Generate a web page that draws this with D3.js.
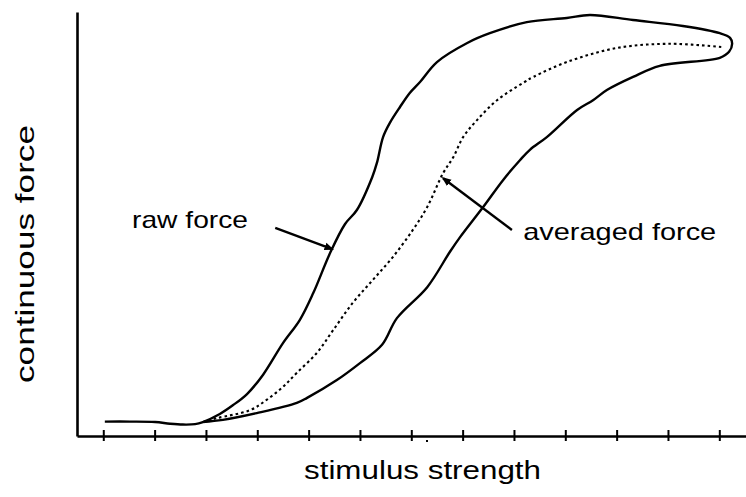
<!DOCTYPE html>
<html>
<head>
<meta charset="utf-8">
<script src="https://cdn.jsdelivr.net/npm/d3@7"></script>
<style>
  body { margin: 0; background: #fff; }
  svg { display: block; }
  text { font-family: "Liberation Sans", Arial, Helvetica, sans-serif; fill: #000; }
</style>
</head>
<body>
<svg id="chart" width="746" height="497"></svg>
<script>
// tick positions along stimulus axis (no labels on the original)
const xTicks = [0, 1, 2, 3, 4, 5, 6, 7, 8, 9, 10, 11, 12];

// raw force: one loop, flat start -> rising branch -> top right -> falling branch back
const rawX = [0.03, 0.52, 1.01, 1.30, 1.55, 1.79, 1.94,
  2.27, 2.53, 2.80, 3.11, 3.50, 3.83, 4.09, 4.42, 4.71, 4.94, 5.24, 5.33, 5.45, 5.58, 5.78, 5.97, 6.17,
  6.50, 7.09, 7.53, 8.25, 9.03, 9.48, 10.32, 11.29, 12.01, 12.21, 12.25, 12.19, 12.01,
  10.84, 10.32, 9.81, 9.54, 9.23, 8.64, 8.31, 8.12, 7.79, 7.40, 6.95, 6.75, 6.31, 5.72, 5.43, 5.00,
  4.55, 3.97, 3.77, 2.99, 2.33, 1.94];
const rawY = [3.4, 3.4, 3.3, 2.9, 2.7, 2.8, 3.3,
  5.2, 7.3, 9.9, 14.4, 21.9, 27.4, 33.7, 43.2, 50.0, 53.3, 61.1, 64.4, 70.5, 73.8, 77.6, 80.9, 83.5,
  88.2, 92.7, 95.0, 97.6, 98.6, 99.3, 98.1, 96.7, 95.0, 93.9, 92.5, 90.6, 89.2,
  87.3, 84.7, 81.6, 79.2, 76.9, 70.5, 67.5, 65.1, 60.4, 54.0, 46.9, 43.4, 35.1, 27.8, 21.5, 17.2,
  13.2, 9.0, 7.8, 5.4, 3.8, 3.3];

// averaged force (dotted)
const avgX = [1.94, 2.21, 2.86, 3.18, 3.50, 3.77, 4.16, 4.48, 4.86, 5.25, 5.64, 6.03, 6.31, 6.62,
  6.82, 7.01, 7.28, 7.67, 8.18, 8.38, 9.03, 10.00, 11.04, 12.07];
const avgY = [3.3, 4.2, 6.1, 8.5, 11.6, 14.9, 19.6, 25.0, 31.4, 36.8, 42.2, 48.6, 54.0, 62.0,
  65.8, 70.5, 74.5, 79.2, 83.3, 84.7, 88.2, 91.5, 92.5, 91.7];

// labels with their leader lines: [text x, text y, line start x, y, line end x, y]
const labelNames = ["raw force", "averaged force"];
const labelPos = [[0.56, 49.1, 3.35, 49.1, 4.46, 44.1],
                  [8.18, 46.2, 7.96, 48.6, 6.62, 60.8]];

const xTitle = "stimulus strength";
const yTitle = "continuous force";

const svg = d3.select("#chart");

const x = d3.scaleLinear().domain([-0.512, 12.52]).range([77, 746]);
const y = d3.scaleLinear().domain([0, 100]).range([436, 12]);

// x axis, ticks cross the line
const xAxis = svg.append("g")
  .attr("transform", "translate(0,436)")
  .call(d3.axisBottom(x).tickValues(xTicks).tickSize(5).tickSizeOuter(0).tickFormat(""));
xAxis.select(".domain").attr("stroke-width", 2.6);
xAxis.selectAll(".tick line").attr("y1", -6).attr("stroke-width", 2);

// y axis, bare line
const yAxis = svg.append("g")
  .attr("transform", "translate(77,0)")
  .call(d3.axisLeft(y).tickValues([]).tickSizeOuter(0));
yAxis.select(".domain").attr("stroke-width", 2.6);

const line = d3.line()
  .x(d => x(d[0]))
  .y(d => y(d[1]))
  .curve(d3.curveCatmullRom.alpha(0.5));

svg.append("path")
  .datum(d3.zip(rawX, rawY))
  .attr("d", line)
  .attr("fill", "none")
  .attr("stroke", "#000")
  .attr("stroke-width", 2.4)
  .attr("stroke-linejoin", "round");

svg.append("path")
  .datum(d3.zip(avgX, avgY))
  .attr("d", line)
  .attr("fill", "none")
  .attr("stroke", "#000")
  .attr("stroke-width", 2.1)
  .attr("stroke-dasharray", "2.6,3");

// leader lines with small arrow heads at the curve end
svg.append("defs").append("marker")
  .attr("id", "tip")
  .attr("viewBox", "0 0 10 10")
  .attr("refX", 8).attr("refY", 5)
  .attr("markerWidth", 4).attr("markerHeight", 4)
  .attr("orient", "auto")
  .append("path").attr("d", "M0,1 L10,5 L0,9 Z").attr("fill", "#000");

const labelLen = [116, 193];
labelPos.forEach((p, i) => {
  svg.append("line")
    .attr("x1", x(p[2])).attr("y1", y(p[3]))
    .attr("x2", x(p[4])).attr("y2", y(p[5]))
    .attr("stroke", "#000")
    .attr("stroke-width", 2.4)
    .attr("marker-end", "url(#tip)");
  svg.append("text")
    .attr("x", x(p[0])).attr("y", y(p[1]))
    .attr("font-size", 24)
    .attr("textLength", labelLen[i])
    .attr("lengthAdjust", "spacingAndGlyphs")
    .text(labelNames[i]);
});

svg.append("text")
  .attr("x", 304).attr("y", 479)
  .attr("font-size", 25)
  .attr("textLength", 237)
  .attr("lengthAdjust", "spacingAndGlyphs")
  .text(xTitle);

svg.append("text")
  .attr("transform", "translate(34,383) rotate(-90)")
  .attr("font-size", 25)
  .attr("textLength", 258)
  .attr("lengthAdjust", "spacingAndGlyphs")
  .text(yTitle);

// tiny speck under the axis in the scan
svg.append("rect").attr("x", 426).attr("y", 440).attr("width", 2).attr("height", 2).attr("fill", "#000");
</script>
</body>
</html>
